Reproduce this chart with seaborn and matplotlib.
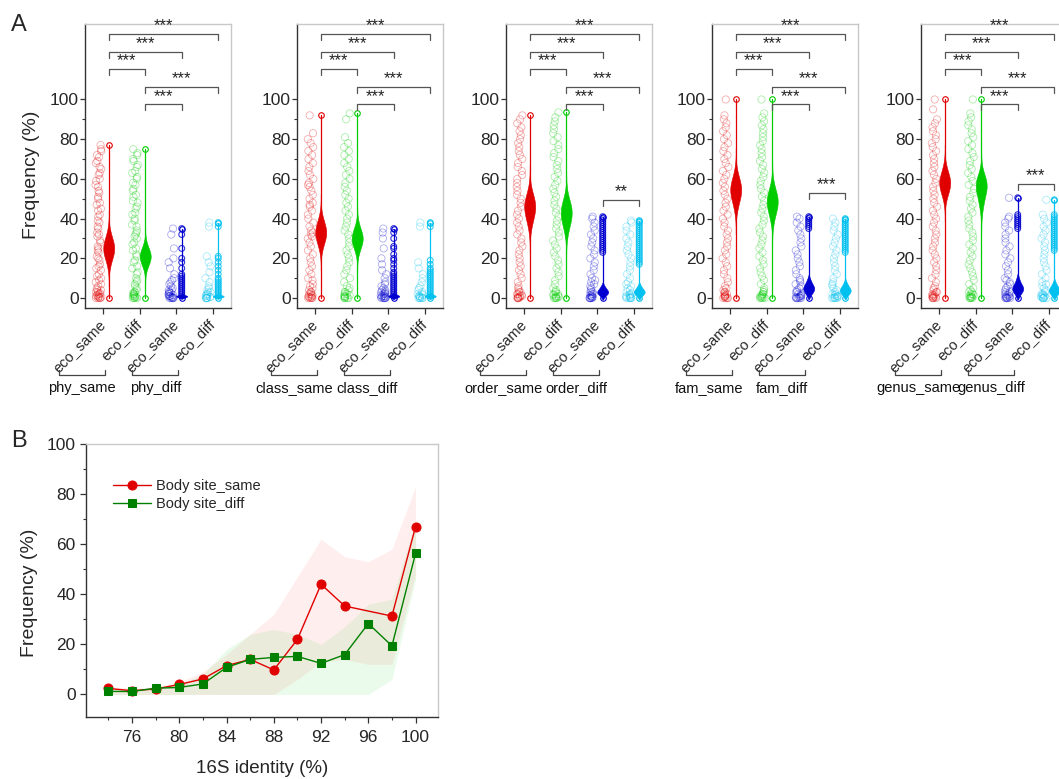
import numpy as np
import matplotlib
matplotlib.use("Agg")
import matplotlib.pyplot as plt
import seaborn as sns
from matplotlib.ticker import FixedLocator

sns.set_style("ticks")
plt.rcParams['font.family'] = ['Liberation Sans', 'DejaVu Sans']
np.random.seed(7)

# ---------------- data: panel A ----------------
categories = ["eco_same", "eco_diff", "eco_same", "eco_diff"]
group_labels = [("phy_same", "phy_diff"), ("class_same", "class_diff"),
                ("order_same", "order_diff"), ("fam_same", "fam_diff"),
                ("genus_same", "genus_diff")]

phy_points = [
    [0, 0, 0, 0, 0.5, 0.5, 1, 1, 1.5, 2, 2, 2.5, 3, 3, 4, 4, 5, 6, 7, 8, 9, 10, 11, 12, 14, 15, 16, 17, 19, 20, 21, 23, 24, 25, 26, 28, 29, 31, 32, 33, 35, 36, 38, 39, 41, 42, 44, 45, 47, 48, 50, 51, 53, 54, 56, 57, 59, 60, 62, 63, 65, 66, 68, 69, 71, 72, 74, 75, 77],
    [0, 0, 0, 0, 0.5, 0.5, 1, 1, 1.5, 2, 2, 2.5, 3, 3, 4, 5, 6, 7, 8, 9, 10, 12, 13, 15, 16, 18, 19, 21, 22, 24, 25, 27, 28, 30, 31, 32, 33, 34, 36, 37, 39, 40, 42, 43, 45, 46, 48, 49, 51, 52, 54, 55, 57, 58, 60, 61, 63, 64, 66, 67, 69, 70, 72, 73, 75],
    [0, 0, 0, 0, 0, 0.5, 0.5, 1, 1, 1, 1.5, 2, 2, 2.5, 3, 3, 4, 4, 5, 6, 7, 8, 9, 10, 12, 15, 18, 20, 25, 32, 35],
    [0, 0, 0, 0, 0, 0.5, 0.5, 1, 1, 1.5, 2, 2, 3, 3, 4, 5, 6, 8, 10, 13, 16, 18, 21, 36, 38],
]
phy_violin = [
    [18, 21, 23, 24, 25, 26, 27, 29, 32],
    [15.5, 18, 19.5, 20, 21, 22, 22.5, 24, 26.5],
    [0.3, 0.6, 0.8, 1, 1.2, 1.5],
    [0.3, 0.6, 0.8, 1, 1.2, 1.5],
]
phy_outliers = [[], [],
    [1, 2, 3, 4, 5, 6, 7, 8, 9, 10, 11, 12, 15, 18, 20, 25, 32, 35],
    [1, 2, 3, 4, 5, 6, 7, 8, 9, 10, 12, 14, 16, 18, 20, 21, 36, 38]]

class_points = [
    [0, 0, 0, 0, 0.5, 0.5, 1, 1, 1.5, 2, 2, 3, 3, 4, 5, 6, 7, 9, 10, 12, 14, 16, 18, 20, 22, 24, 26, 28, 30, 31, 32, 33, 34, 36, 38, 40, 42, 44, 46, 47, 48, 50, 52, 54, 56, 57, 58, 60, 62, 64, 66, 68, 70, 72, 74, 76, 78, 80, 83, 92],
    [0, 0, 0, 0, 0.5, 0.5, 1, 1, 1.5, 2, 2, 3, 3, 4, 5, 6, 8, 10, 12, 14, 16, 18, 20, 22, 24, 26, 28, 30, 32, 34, 36, 38, 40, 42, 44, 46, 48, 50, 52, 54, 56, 58, 60, 62, 64, 66, 68, 70, 72, 74, 76, 78, 81, 90, 93],
    [0, 0, 0, 0, 0, 0.5, 0.5, 1, 1, 1, 1.5, 2, 2, 2.5, 3, 3, 4, 4, 5, 6, 7, 8, 10, 12, 14, 17, 20, 25, 30, 33, 35],
    [0, 0, 0, 0, 0, 0.5, 0.5, 1, 1, 1.5, 2, 2, 3, 4, 5, 6, 8, 10, 12, 15, 18, 36, 38],
]
class_violin = [
    [26, 29, 31, 32, 33, 34, 35, 37, 40],
    [23.8, 26.4, 28.2, 29.1, 30, 30.9, 31.8, 33.6, 36.2],
    [0.3, 0.6, 0.8, 1, 1.2, 1.5, 2],
    [0.3, 0.6, 0.8, 1, 1.2, 1.5, 2],
]
class_outliers = [[], [],
    [1, 2, 3, 4, 5, 6, 7, 8, 9, 10, 11, 12, 13, 15, 17, 19, 20, 22, 25, 26, 30, 33, 35],
    [1, 2, 3, 4, 5, 6, 7, 8, 9, 10, 11, 12, 13, 14, 15, 17, 19, 36, 38]]

order_points = [
    [0, 0, 0, 0, 0.5, 0.5, 1, 1, 1.5, 2, 2, 3, 3, 4, 5, 6, 8, 10, 12, 14, 16, 18, 20, 22, 24, 26, 28, 30, 32, 34, 36, 38, 40, 42, 44, 46, 48, 50, 52, 54, 56, 58, 60, 62, 64, 66, 68, 70, 72, 74, 76, 78, 80, 82, 84, 86, 88, 90, 92],
    [0, 0, 0, 0, 0.5, 0.5, 1, 1, 1.5, 2, 2, 3, 3, 4, 5, 7, 9, 11, 13, 15, 17, 19, 21, 23, 25, 27, 29, 31, 33, 35, 37, 39, 41, 43, 45, 47, 49, 51, 53, 55, 57, 59, 61, 63, 65, 67, 69, 71, 73, 75, 77, 79, 81, 83, 85, 87, 89, 91, 93.5],
    [0, 0, 0, 0, 0, 0.5, 0.5, 1, 1, 1.5, 2, 2, 3, 3, 4, 5, 6, 7, 8, 9, 10, 12, 14, 16, 18, 20, 22, 24, 26, 28, 30, 32, 34, 36, 38, 40, 41],
    [0, 0, 0, 0, 0, 0.5, 0.5, 1, 1, 1.5, 2, 2, 3, 4, 5, 6, 7, 8, 10, 12, 14, 16, 18, 20, 22, 24, 26, 28, 30, 32, 34, 36, 38, 39],
]
order_violin = [
    [37, 40.5, 43, 44.5, 46, 47, 48, 50, 53],
    [34, 37.5, 40, 41.5, 43, 44, 45, 47, 50],
    [1, 2, 2.5, 3, 3, 3.5, 4, 5, 6],
    [1, 2, 2.5, 3, 3, 3.5, 4, 5, 6],
]
order_outliers = [[], [],
    [23, 24, 25, 26, 27, 28, 29, 30, 31, 32, 33, 34, 35, 36, 37, 38, 39, 40, 41],
    [17, 18, 19, 20, 21, 22, 23, 24, 25, 26, 27, 28, 29, 30, 31, 32, 33, 34, 35, 36, 37, 38, 39]]

fam_points = [
    [0, 0, 0, 0, 0.5, 0.5, 1, 1, 1.5, 2, 2, 3, 3, 4, 5, 6, 8, 10, 12, 14, 16, 18, 20, 22, 24, 26, 28, 30, 32, 34, 36, 38, 40, 42, 44, 46, 48, 50, 52, 54, 56, 58, 60, 62, 64, 66, 68, 70, 72, 74, 76, 78, 80, 82, 84, 86, 88, 90, 92, 100],
    [0, 0, 0, 0, 0.5, 0.5, 1, 1, 1.5, 2, 2, 3, 3, 4, 5, 7, 9, 11, 13, 15, 17, 19, 21, 23, 25, 27, 29, 31, 33, 35, 37, 39, 41, 43, 45, 47, 49, 51, 53, 55, 57, 59, 61, 63, 65, 67, 69, 71, 73, 75, 77, 79, 81, 83, 85, 87, 89, 91, 93, 100],
    [0, 0, 0, 0, 0, 0.5, 0.5, 1, 1, 1.5, 2, 2, 3, 3, 4, 5, 6, 7, 8, 9, 10, 12, 14, 16, 18, 20, 22, 24, 26, 28, 30, 32, 34, 36, 38, 40, 41],
    [0, 0, 0, 0, 0, 0.5, 0.5, 1, 1, 1.5, 2, 2, 3, 4, 5, 6, 7, 8, 10, 12, 14, 16, 18, 20, 22, 24, 26, 28, 30, 32, 34, 36, 38, 40],
]
fam_violin = [
    [46, 49.5, 52, 53.5, 54.5, 55.5, 56.5, 58.5, 62],
    [40, 43.5, 46, 47.5, 48.5, 49.5, 50.5, 52.5, 56],
    [2, 3, 4, 4.5, 5, 5.5, 6, 7.5, 9],
    [1.5, 2.5, 3, 3.5, 4, 4.5, 5, 6, 7.5],
]
fam_outliers = [[], [],
    [35, 36, 37, 38, 39, 40, 41],
    [23, 24, 25, 26, 27, 28, 29, 30, 31, 32, 33, 34, 35, 36, 37, 38, 39, 40]]

genus_points = [
    [0, 0, 0, 0, 0.5, 0.5, 1, 1, 1.5, 2, 2, 3, 3, 4, 5, 6, 8, 10, 12, 14, 16, 18, 20, 22, 24, 26, 28, 30, 32, 34, 36, 38, 40, 42, 44, 46, 48, 50, 52, 54, 56, 58, 60, 62, 64, 66, 68, 70, 72, 74, 76, 78, 80, 82, 84, 86, 88, 90, 95, 100],
    [0, 0, 0, 0, 0.5, 0.5, 1, 1, 1.5, 2, 2, 3, 3, 4, 5, 7, 9, 11, 13, 15, 17, 19, 21, 23, 25, 27, 29, 31, 33, 35, 37, 39, 41, 43, 45, 47, 49, 51, 53, 55, 57, 59, 61, 63, 65, 67, 69, 71, 73, 75, 77, 79, 81, 83, 85, 87, 89, 91, 93, 100],
    [0, 0, 0, 0, 0, 0.5, 0.5, 1, 1, 1.5, 2, 2, 3, 3, 4, 5, 6, 7, 8, 9, 10, 12, 14, 16, 18, 20, 22, 24, 26, 28, 30, 32, 34, 36, 38, 40, 41, 50.5],
    [0, 0, 0, 0, 0, 0.5, 0.5, 1, 1, 1.5, 2, 2, 3, 4, 5, 6, 7, 8, 10, 12, 14, 16, 18, 20, 22, 24, 26, 28, 30, 32, 34, 36, 38, 40, 42, 49.5],
]
genus_violin = [
    [51, 54, 56, 57, 58, 59, 60, 62, 65],
    [46, 50, 53, 55, 56.5, 57.5, 58, 59, 61],
    [2, 3, 4, 4.5, 5, 5.5, 6, 7.5, 9.5],
    [1.5, 2.5, 3, 3.5, 4, 4.5, 5, 6, 7.5],
]
genus_outliers = [[], [],
    [35, 36, 37, 38, 39, 40, 41, 42, 50.5],
    [24, 25, 26, 27, 28, 29, 30, 31, 32, 33, 34, 35, 36, 37, 38, 39, 40, 41, 42, 49.5]]

# significance brackets: (from category, to category, height, label)
common_brackets = [(1, 4, 133, "***"), (1, 3, 124, "***"), (1, 2, 115.5, "***"),
                   (2, 4, 106.5, "***"), (2, 3, 97.5, "***")]
extra_brackets = [None, None, (3, 4, 49.5, "**"), (3, 4, 53, "***"), (3, 4, 57.5, "***")]

panels = [
    (phy_points, phy_violin, phy_outliers),
    (class_points, class_violin, class_outliers),
    (order_points, order_violin, order_outliers),
    (fam_points, fam_violin, fam_outliers),
    (genus_points, genus_violin, genus_outliers),
]

# ---------------- data: panel B ----------------
identity_same = [74, 76, 78, 80, 82, 84, 86, 88, 90, 92, 94, 98, 100]
freq_same = [2.4, 1.5, 2.2, 4.0, 6.2, 11.5, 14.0, 9.8, 22.0, 44.0, 35.3, 31.3, 67.0]
identity_diff = [74, 76, 78, 80, 82, 84, 86, 88, 90, 92, 94, 96, 98, 100]
freq_diff = [1.2, 1.2, 2.5, 2.8, 4.2, 10.8, 14.0, 14.8, 15.2, 12.4, 15.9, 28.3, 19.4, 56.3]

band_x = [74, 76, 78, 80, 82, 84, 86, 88, 90, 92, 94, 96, 98, 100]
band_same_low = [0, 0, 0, 0, 0, 0, 0, 0, 6, 13, 14, 12, 12, 48]
band_same_high = [3, 2.5, 3, 5, 9, 16, 24, 32, 47, 62, 55, 53, 58, 83]
band_diff_low = [0, 0, 0, 0, 0, 0, 0, 0, 0, 0, 0, 0, 6, 46]
band_diff_high = [2, 2, 3, 4, 8, 18, 24, 26, 24, 20, 27, 36, 38, 69]

# ---------------- styling ----------------
W, H = 1059, 779
fig = plt.figure(figsize=(W / 100, H / 100), dpi=100)

cat_colors = ["#e00000", "#00cc00", "#0000d0", "#00c0f0"]
dark = "#333333"
light = "#c8c8c8"
STRIP_OFF = -0.13
VIO_OFF = 0.15


def px_axes(l, t, r, b):
    return fig.add_axes([l / W, (H - b) / H, (r - l) / W, (b - t) / H])


def style_spines(ax):
    for s in ["left", "bottom"]:
        ax.spines[s].set_color(dark)
        ax.spines[s].set_linewidth(1.0)
    for s in ["top", "right"]:
        ax.spines[s].set_color(light)
        ax.spines[s].set_linewidth(1.0)
        ax.spines[s].set_visible(True)


def hollow_last(ax, color, alpha, lw=0.6):
    coll = ax.collections[-1]
    coll.set_facecolor("none")
    coll.set_edgecolor(color)
    coll.set_alpha(alpha)
    coll.set_linewidth(lw)


lefts = [85, 297, 506, 712, 921]
for p, (points, violins, outliers) in enumerate(panels):
    ax = px_axes(lefts[p], 24, lefts[p] + 146, 308)
    for i in range(4):
        c = cat_colors[i]
        cat = i + 1
        spos = cat + STRIP_OFF
        vpos = cat + VIO_OFF
        pts = points[i]
        sns.stripplot(x=[spos] * len(pts), y=pts, native_scale=True, orient="x",
                      jitter=0.08, size=5.2, color=c, ax=ax, zorder=2)
        hollow_last(ax, c, 0.33)
        # range line with end markers
        ax.plot([vpos, vpos], [min(pts), max(pts)], color=c, lw=0.9, zorder=2)
        ax.plot([vpos, vpos], [min(pts), max(pts)], ls="none", marker="o", ms=4,
                mfc="none", mec=c, mew=0.8, zorder=4)
        v = violins[i]
        same_group = i < 2
        sns.violinplot(x=[vpos] * len(v), y=v, native_scale=True, orient="x",
                       color=c, saturation=1, inner=None, width=0.3,
                       linewidth=0.4, linecolor=c,
                       cut=3 if same_group else 1.5,
                       bw_adjust=1.5 if same_group else 1.2,
                       density_norm="width", ax=ax)
        if outliers[i]:
            o = outliers[i]
            sns.stripplot(x=[vpos] * len(o), y=o, native_scale=True, orient="x",
                          jitter=False, size=4.2, color=c, ax=ax, zorder=4)
            hollow_last(ax, c, 0.8, 0.8)

    ax.set_xlim(0.5, 4.5)
    ax.set_ylim(-5, 138)
    ax.set_xlabel("")
    ax.set_ylabel("")
    ax.set_yticks([0, 20, 40, 60, 80, 100])
    ax.yaxis.set_minor_locator(FixedLocator([10, 30, 50, 70, 90]))
    ax.tick_params(axis="y", which="major", length=3.5, width=0.9, color=dark,
                   labelsize=12.5, pad=1)
    ax.tick_params(axis="y", which="minor", length=2, width=0.8, color=dark)
    ax.set_xticks([1, 2, 3, 4])
    ax.set_xticklabels(categories, rotation=45, ha="right", va="center",
                       rotation_mode="anchor", fontsize=10.5)
    ax.tick_params(axis="x", which="major", length=4, width=0.9, color=dark, pad=6)
    style_spines(ax)

    # significance brackets
    brs = list(common_brackets)
    if extra_brackets[p] is not None:
        brs.append(extra_brackets[p])
    for a, b, y, lab in brs:
        x1, x2 = a + VIO_OFF, b + VIO_OFF
        ax.plot([x1, x1, x2, x2], [y - 3, y, y, y - 3], color="#555555", lw=0.9,
                clip_on=False, zorder=5)
        ax.text((x1 + x2) / 2, y + 0.2, lab, ha="center", va="bottom", fontsize=12,
                color="#222222")

    # group brackets below the tick labels
    tr = ax.get_xaxis_transform()
    for (gx1, gx2), glab in zip([(-0.2, 1.05), (1.8, 3.05)], group_labels[p]):
        ax.plot([gx1, gx1, gx2, gx2], [-0.218, -0.236, -0.236, -0.218], transform=tr,
                color="#444444", lw=0.9, clip_on=False)
        ax.text((gx1 + gx2) / 2, -0.258, glab, transform=tr, ha="center", va="top",
                fontsize=10.5, color="#111111")

    if p == 0:
        ax.set_ylabel("Frequency (%)", fontsize=14)
        ax.yaxis.set_label_coords(-0.31, 0.47)

fig.text(11 / W, 1 - 14 / H, "A", fontsize=17, va="top", ha="left")

# ---------------- panel B ----------------
axb = px_axes(86, 444, 438, 717)
axb.fill_between(band_x, band_same_low, band_same_high, color=(1, 0, 0), alpha=0.065,
                 lw=0, zorder=1)
axb.fill_between(band_x, band_diff_low, band_diff_high, color=(0, 0.8, 0), alpha=0.08,
                 lw=0, zorder=1)
sns.lineplot(x=identity_same, y=freq_same, color="#e00000", marker="o", markersize=6.5,
             mec="#e00000", mfc="#e00000", lw=1.0, label="Body site_same", ax=axb,
             zorder=3)
sns.lineplot(x=identity_diff, y=freq_diff, color="#008000", marker="s", markersize=5.5,
             mec="#008000", mfc="#008000", lw=1.0, label="Body site_diff", ax=axb,
             zorder=3)
axb.set_xlim(72.1, 101.9)
axb.set_ylim(-9, 100)
axb.set_xticks([76, 80, 84, 88, 92, 96, 100])
axb.xaxis.set_minor_locator(FixedLocator([74, 78, 82, 86, 90, 94, 98]))
axb.set_yticks([0, 20, 40, 60, 80, 100])
axb.yaxis.set_minor_locator(FixedLocator([10, 30, 50, 70, 90]))
axb.tick_params(axis="both", which="major", length=4.5, width=0.9, color=dark,
                labelsize=12.5, pad=3)
axb.tick_params(axis="both", which="minor", length=2.5, width=0.8, color=dark)
axb.tick_params(axis="x", which="major", pad=5)
style_spines(axb)
axb.set_xlabel("16S identity (%)", fontsize=13.5)
axb.xaxis.set_label_coords(0.5, -0.157)
axb.set_ylabel("Frequency (%)", fontsize=14)
axb.yaxis.set_label_coords(-0.136, 0.454)
axb.legend(loc="upper left", bbox_to_anchor=(0.04, 0.92), frameon=False, fontsize=10.5,
           handlelength=2.6, handletextpad=0.35, labelspacing=0.25, borderaxespad=0.5)

fig.text(11 / W, 1 - 430 / H, "B", fontsize=17, va="top", ha="left")

fig.savefig("out.png", dpi=100)
